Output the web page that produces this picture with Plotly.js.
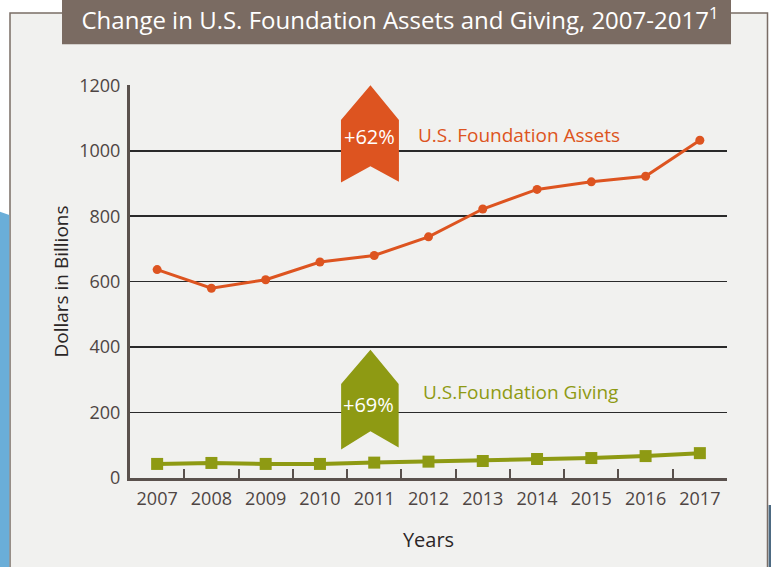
<!DOCTYPE html>
<html>
<head>
<meta charset="utf-8">
<script src="https://cdn.plot.ly/plotly-3.0.1.min.js"></script>
<style>html,body{margin:0;padding:0;background:#fff;}#chart{width:771px;height:567px;}</style>
</head>
<body>
<div id="chart"></div>
<script>
const years = ['2007','2008','2009','2010','2011','2012','2013','2014','2015','2016','2017'];
const assets = [637, 580, 606, 660, 680, 737, 822, 882, 905, 922, 1032];
const giving = [43, 46, 43, 43, 47, 50, 52, 58, 61, 67, 76];
const yTicks = [0, 200, 400, 600, 800, 1000, 1200];

const ORANGE = '#dd5420';
const GREEN = '#8e9a13';
const AXIS = '#5a514d';
const TXT = '#4e4543';
const FONT = 'Open Sans, Noto Sans, sans-serif';

// pixel -> paper helpers (plot area: x 130..727, y 85..478)
const L = 130, R = 44, T = 85, B = 89, W = 771, H = 567;
const pw = W - L - R, ph = H - T - B;
const px = x => (x - L) / pw;
const py = y => (H - B - y) / ph;

const traces = [
  {x: years, y: assets, type: 'scatter', mode: 'lines+markers', name: 'U.S. Foundation Assets',
   line: {color: ORANGE, width: 3}, marker: {color: ORANGE, size: 9, symbol: 'circle'}},
  {x: years, y: giving, type: 'scatter', mode: 'lines+markers', name: 'U.S.Foundation Giving',
   line: {color: GREEN, width: 4}, marker: {color: GREEN, size: 12, symbol: 'square'}}
];

const shapes = [
  // panel
  {type: 'rect', xref: 'paper', yref: 'paper', x0: px(10), x1: px(767.5), y0: py(575), y1: py(13),
   fillcolor: '#f1f1ef', line: {color: '#7a6d66', width: 1.5}, layer: 'below'},
  // blue side strip
  {type: 'path', xref: 'paper', yref: 'paper',
   path: `M ${px(-2)},${py(211)} L ${px(9.3)},${py(215)} L ${px(9.3)},${py(575)} L ${px(-2)},${py(575)} Z`,
   fillcolor: '#6aaed8', line: {width: 0}, layer: 'below'},
  {type: 'rect', xref: 'paper', yref: 'paper', x0: px(768.6), x1: px(775), y0: py(575), y1: py(505),
   fillcolor: '#4d6a82', line: {width: 0}, layer: 'below'},
  // title band
  {type: 'rect', xref: 'paper', yref: 'paper', x0: px(62), x1: px(731), y0: py(44.3), y1: py(-5),
   fillcolor: '#7a6b62', line: {width: 0}, layer: 'below'},
  // orange ribbon arrow
  {type: 'path', xref: 'x', yref: 'y',
   path: 'M 3.93,1200 L 4.455,1094 L 4.455,905 L 3.93,953 L 3.387,903 L 3.387,1094 Z',
   fillcolor: ORANGE, line: {width: 0}, layer: 'above'},
  // green ribbon arrow
  {type: 'path', xref: 'x', yref: 'y',
   path: 'M 3.93,392 L 4.45,287 L 4.45,93 L 3.93,143 L 3.39,87 L 3.39,287 Z',
   fillcolor: GREEN, line: {width: 0}, layer: 'above'}
];

const annotations = [
  {x: 3.92, y: 1045, xref: 'x', yref: 'y', text: '+62%', showarrow: false,
   font: {family: FONT, size: 20, color: '#ffffff'}},
  {x: 3.9, y: 226, xref: 'x', yref: 'y', text: '+69%', showarrow: false,
   font: {family: FONT, size: 20, color: '#ffffff'}},
  {x: 4.77, y: 1048, xref: 'x', yref: 'y', text: 'U.S. Foundation Assets', showarrow: false,
   xanchor: 'left', font: {family: FONT, size: 19, color: ORANGE}},
  {x: 4.86, y: 262, xref: 'x', yref: 'y', text: 'U.S.Foundation Giving', showarrow: false,
   xanchor: 'left', font: {family: FONT, size: 19, color: GREEN}}
];

const layout = {
  width: W, height: H,
  margin: {l: L, r: R, t: T, b: B, pad: 0},
  paper_bgcolor: '#ffffff',
  plot_bgcolor: 'rgba(0,0,0,0)',
  showlegend: false,
  title: {text: 'Change in U.S. Foundation Assets and Giving, 2007-2017<sup>1</sup>',
          x: 400 / W, xref: 'container', xanchor: 'center',
          y: 1 - 21 / H, yref: 'container', yanchor: 'middle',
          font: {family: FONT, size: 24, color: '#ffffff'}},
  xaxis: {type: 'category', range: [-0.5, 10.5], tickvals: years, ticktext: years,
          showgrid: false, zeroline: false,
          showline: true, linecolor: AXIS, linewidth: 3,
          ticks: 'inside', tickson: 'boundaries', ticklen: 9, tickwidth: 2, tickcolor: AXIS,
          ticklabelstandoff: 2,
          tickfont: {family: FONT, size: 18, color: TXT},
          title: {text: 'Years', standoff: 25, font: {family: FONT, size: 20, color: '#2b2626'}},
          fixedrange: true},
  yaxis: {range: [0, 1201], tickvals: yTicks, ticktext: yTicks.map(String),
          showgrid: true, gridcolor: '#2a2a2a', gridwidth: 1.5,
          zeroline: false, showline: true, linecolor: AXIS, linewidth: 3,
          ticks: '', ticklabelstandoff: 3,
          tickfont: {family: FONT, size: 18, color: TXT},
          title: {text: 'Dollars in Billions', standoff: 6, font: {family: FONT, size: 19, color: '#2b2626'}},
          fixedrange: true},
  shapes: shapes,
  annotations: annotations
};

Plotly.newPlot('chart', traces, layout, {displayModeBar: false, staticPlot: true});
</script>
</body>
</html>
